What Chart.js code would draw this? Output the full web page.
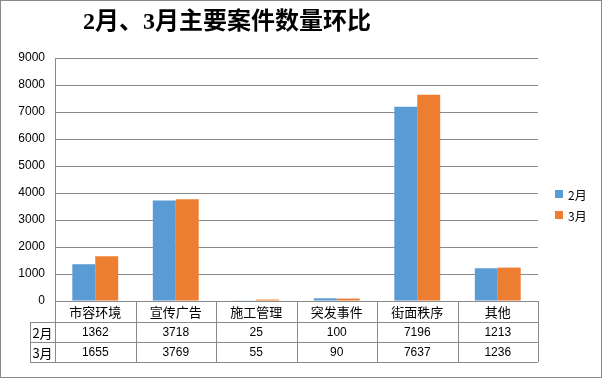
<!DOCTYPE html>
<html>
<head>
<meta charset="utf-8">
<script src="https://cdn.jsdelivr.net/npm/chart.js@4"></script>
<style>
	body { margin: 0; background: #fff; }
</style>
</head>
<body>
<canvas id="mycanvas" width="602" height="378"></canvas>
<script>
var categories = ['市容环境', '宣传广告', '施工管理', '突发事件', '街面秩序', '其他'];
var feb = [1362, 3718, 25, 100, 7196, 1213];
var mar = [1655, 3769, 55, 90, 7637, 1236];
var seriesNames = ['2月', '3月'];
var colors = ['#5B9BD5', '#ED7D31'];
var title = '2月、3月主要案件数量环比';

var lineColor = '#8a8a8a';
var cjk = "'Noto Sans CJK SC', 'DejaVu Sans', sans-serif";
var num = "'Liberation Sans', 'DejaVu Sans', sans-serif";

var extras = {
	id: 'extras',
	afterDraw: function(chart) {
		var ctx = chart.ctx;
		var area = chart.chartArea;
		var x = chart.scales.x;
		var n = categories.length;
		var colW = (area.right - area.left) / n;
		var rows = [area.bottom, area.bottom + 21, area.bottom + 41, area.bottom + 61];
		var labelLeft = 30;

		ctx.save();
		// table lines
		ctx.strokeStyle = lineColor;
		ctx.lineWidth = 1;
		ctx.beginPath();
		for (var r = 1; r < rows.length; r++) {
			ctx.moveTo(labelLeft, Math.round(rows[r]) + 0.5);
			ctx.lineTo(area.right, Math.round(rows[r]) + 0.5);
		}
		for (var i = 0; i <= n; i++) {
			var lx = Math.round(area.left + colW * i) + 0.5;
			ctx.moveTo(lx, rows[0]);
			ctx.lineTo(lx, rows[3]);
		}
		ctx.moveTo(labelLeft + 0.5, rows[1]);
		ctx.lineTo(labelLeft + 0.5, rows[3]);
		ctx.stroke();

		// table text
		ctx.fillStyle = '#000';
		ctx.textAlign = 'center';
		ctx.textBaseline = 'middle';
		var data = [feb, mar];
		for (var i = 0; i < n; i++) {
			var cx = x.getPixelForValue(i);
			ctx.font = '13px ' + cjk;
			ctx.fillText(categories[i], cx, (rows[0] + rows[1]) / 2 + 1);
			ctx.font = '12px ' + num;
			ctx.fillText(String(data[0][i]), cx, (rows[1] + rows[2]) / 2 + 1);
			ctx.fillText(String(data[1][i]), cx, (rows[2] + rows[3]) / 2 + 1);
		}
		ctx.font = '13px ' + cjk;
		ctx.fillText(seriesNames[0], (labelLeft + area.left) / 2, (rows[1] + rows[2]) / 2 + 1);
		ctx.fillText(seriesNames[1], (labelLeft + area.left) / 2, (rows[2] + rows[3]) / 2 + 1);

		// legend
		ctx.textAlign = 'left';
		ctx.font = '12px ' + cjk;
		for (var s = 0; s < 2; s++) {
			var ly = 194 + s * 21;
			ctx.fillStyle = colors[s];
			ctx.fillRect(555, ly - 4, 8, 8);
			ctx.fillStyle = '#000';
			ctx.fillText(seriesNames[s], 568, ly + 1);
		}

		// title
		ctx.textAlign = 'center';
		ctx.font = "bold 24px 'Liberation Serif', " + cjk;
		ctx.fillText(title, 227, 23);

		// outer border
		ctx.strokeStyle = lineColor;
		ctx.strokeRect(0.5, 0.5, 601, 377);
		ctx.restore();
	}
};

var ctx = document.getElementById('mycanvas');

var barGraph = new Chart(ctx, {
	type: 'bar',
	data: {
		labels: categories,
		datasets: [
			{ label: seriesNames[0], data: feb, backgroundColor: colors[0] },
			{ label: seriesNames[1], data: mar, backgroundColor: colors[1] }
		]
	},
	options: {
		responsive: false,
		animation: false,
		categoryPercentage: 0.57,
		barPercentage: 1.0,
		layout: { padding: { top: 58, bottom: 77, left: 0, right: 64 } },
		plugins: {
			legend: { display: false },
			tooltip: { enabled: false }
		},
		scales: {
			x: { display: false },
			y: {
				min: 0,
				max: 9000,
				afterFit: function(scale) { scale.width = 55; },
				ticks: {
					stepSize: 1000,
					color: '#000',
					padding: 10,
					font: { size: 12, family: num },
					callback: function(v) { return String(v); }
				},
				grid: { color: lineColor, drawTicks: false },
				border: { color: lineColor }
			}
		}
	},
	plugins: [extras]
});
</script>
</body>
</html>
